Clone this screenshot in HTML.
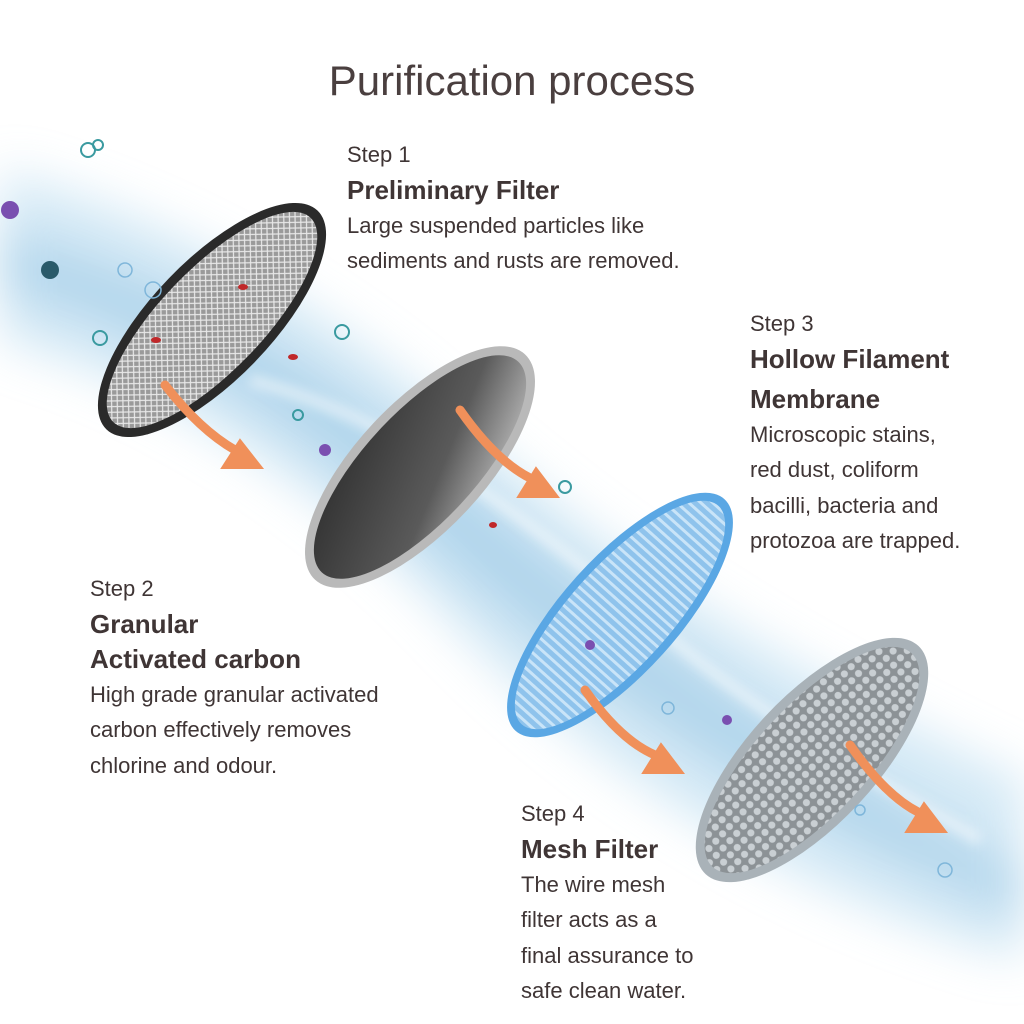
<!DOCTYPE html>
<html><head><meta charset="utf-8"><style>
body{margin:0;width:1024px;height:1024px;background:#fff;overflow:hidden;position:relative;font-family:"Liberation Sans",sans-serif;color:#4a4040}
svg{position:absolute;left:0;top:0}
.t{position:absolute;font-size:22px;line-height:35.5px;color:#3f3535}
.t b{font-size:26px;display:block;line-height:35px}
h1{position:absolute;top:57px;left:0;width:1024px;text-align:center;margin:0;font-weight:normal;font-size:42px;color:#4a3f3f}
</style></head><body>
<svg width="1024" height="1024" viewBox="0 0 1024 1024">
<defs>
<filter id="b" x="-30%" y="-30%" width="160%" height="160%"><feGaussianBlur stdDeviation="24"/></filter>
<filter id="b2"><feGaussianBlur stdDeviation="6"/></filter>
<pattern id="mesh" width="8" height="8" patternUnits="userSpaceOnUse"><rect width="8" height="8" fill="#9a9a9a"/><path d="M0 0L8 8M8 0L0 8" stroke="#e8e8e8" stroke-width="1.2"/></pattern>
<pattern id="hex" width="10" height="10" patternUnits="userSpaceOnUse"><rect width="10" height="10" fill="#8c9296"/><circle cx="5" cy="5" r="3.6" fill="#c9cfd3"/></pattern>
<pattern id="lines" width="8" height="8" patternUnits="userSpaceOnUse"><rect width="8" height="8" fill="#8fc3ec"/><rect width="3" height="8" fill="#c9e4f8"/></pattern>
<linearGradient id="g2" x1="0" y1="0" x2="1" y2="1"><stop offset="0" stop-color="#2b2b2b"/><stop offset=".6" stop-color="#5a5a5a"/><stop offset="1" stop-color="#cfcfcf"/></linearGradient>
</defs>
<g filter="url(#b)" opacity=".6">
<path d="M0 170 C150 210 300 290 420 390 C560 510 700 630 1024 780 L1024 960 C800 900 600 780 450 620 C320 480 150 380 0 340Z" fill="#b9dcf0"/>
<path d="M0 230 C200 280 330 370 480 490 C620 610 800 750 1024 870 L1024 920 C780 820 600 700 450 570 C320 450 180 340 0 290Z" fill="#7fbbe0"/>
</g>
<g filter="url(#b2)" opacity=".6"><path d="M250 380 C400 420 500 500 650 620 C760 720 880 780 980 840" stroke="#fff" stroke-width="10" fill="none"/></g>
<g transform="translate(212,320) rotate(-46)">
<ellipse rx="152" ry="60" fill="#2a2a2a"/><ellipse rx="142" ry="51" fill="url(#mesh)"/>
</g>
<g transform="translate(420,467) rotate(-47)">
<ellipse rx="154" ry="64" fill="#b9b9b9"/><ellipse rx="144" ry="55" fill="url(#g2)"/>
</g>
<g transform="translate(620,615) rotate(-48)">
<ellipse rx="156" ry="58" fill="#5aa7e4"/><ellipse rx="147" ry="50" fill="url(#lines)"/>
</g>
<g transform="translate(812,760) rotate(-47)">
<ellipse rx="156" ry="64" fill="#a9b2b8"/><ellipse rx="146" ry="55" fill="url(#hex)"/>
</g>
<g fill="#f0905a" stroke="#f0905a" stroke-width="9" stroke-linecap="round">
<path d="M165 385 Q200 430 235 450" fill="none"/><polygon points="262,468 222,468 240,440" stroke-width="2"/>
<path d="M460 410 Q495 460 530 478" fill="none"/><polygon points="558,497 518,497 536,468" stroke-width="2"/>
<path d="M585 690 Q620 740 655 755" fill="none"/><polygon points="683,773 643,773 661,744" stroke-width="2"/>
<path d="M850 745 Q885 795 918 812" fill="none"/><polygon points="946,832 906,832 924,803" stroke-width="2"/>
</g>
<g fill="none" stroke="#3a9aa0" stroke-width="2">
<circle cx="88" cy="150" r="7"/><circle cx="98" cy="145" r="5"/><circle cx="342" cy="332" r="7"/><circle cx="100" cy="338" r="7"/><circle cx="565" cy="487" r="6"/><circle cx="298" cy="415" r="5"/>
</g>
<g fill="none" stroke="#7fb6da" stroke-width="1.5">
<circle cx="125" cy="270" r="7"/><circle cx="153" cy="290" r="8"/><circle cx="668" cy="708" r="6"/><circle cx="945" cy="870" r="7"/><circle cx="860" cy="810" r="5"/>
</g>
<g fill="#7a4fb0"><circle cx="10" cy="210" r="9"/><circle cx="325" cy="450" r="6"/><circle cx="727" cy="720" r="5"/><circle cx="590" cy="645" r="5"/></g>
<circle cx="50" cy="270" r="9" fill="#2a5a6a"/>
<g fill="#c0282a"><ellipse cx="243" cy="287" rx="5" ry="3"/><ellipse cx="156" cy="340" rx="5" ry="3"/><ellipse cx="293" cy="357" rx="5" ry="3"/><ellipse cx="493" cy="525" rx="4" ry="3"/></g>
</svg>
<h1>Purification process</h1>
<div class="t" style="left:347px;top:137px">Step 1<b>Preliminary Filter</b>Large suspended particles like<br>sediments and rusts are removed.</div>
<div class="t" style="left:750px;top:306px">Step 3<b>Hollow Filament</b><b style="margin-top:5px">Membrane</b>Microscopic stains,<br>red dust, coliform<br>bacilli, bacteria and<br>protozoa are trapped.</div>
<div class="t" style="left:90px;top:571px">Step 2<b>Granular</b><b>Activated carbon</b>High grade granular activated<br>carbon effectively removes<br>chlorine and odour.</div>
<div class="t" style="left:521px;top:796px">Step 4<b>Mesh Filter</b>The wire mesh<br>filter acts as a<br>final assurance to<br>safe clean water.</div>
</body></html>
